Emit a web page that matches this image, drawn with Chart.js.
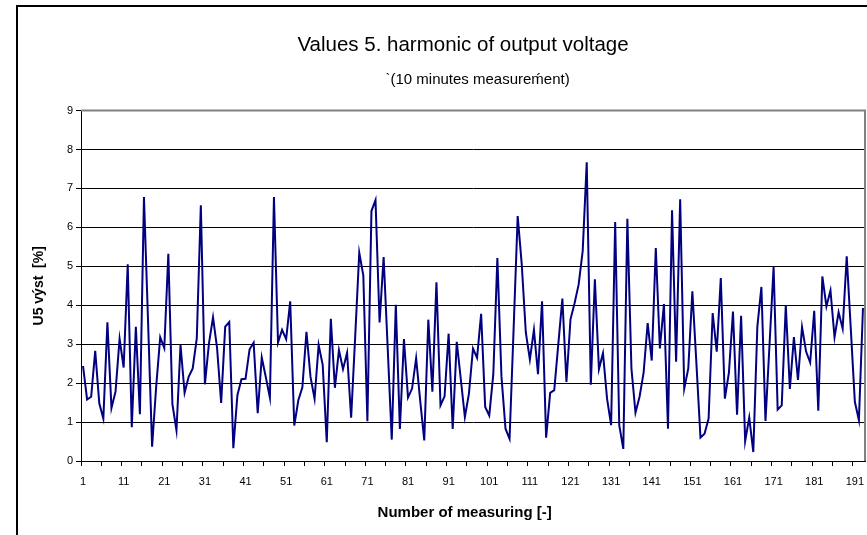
<!DOCTYPE html>
<html>
<head>
<meta charset="utf-8">
<script src="https://cdn.jsdelivr.net/npm/chart.js@4"></script>
<style>
	body {margin: 0; background: #fff; overflow: hidden;}
	#wrap {position: relative; width: 867px; height: 535px; overflow: hidden;}
	#frame {position: absolute; left: 16px; top: 5px; width: 900px; height: 600px; border: 2px solid #000; pointer-events: none;}
	canvas {position: absolute; left: 0; top: 0;}
</style>
</head>
<body>
<div id="wrap">
	<canvas id="harmonicChart" width="930" height="535"></canvas>
	<div id="frame"></div>
</div>
<script>
'use strict';

// number of measuring 1..193
const measurements = Array.from({length: 193}, (v, i) => String(i + 1));

// U5 vyst [%]
const u5Values = [
	2.44, 1.58, 1.65, 2.83, 1.48, 1.09, 3.56, 1.36, 1.78, 3.14,
	2.40, 5.05, 0.87, 3.45, 1.20, 6.78, 3.60, 0.37, 1.90, 3.18,
	2.90, 5.32, 1.46, 0.79, 2.98, 1.75, 2.16, 2.38, 3.15, 6.57,
	1.97, 3.02, 3.69, 2.90, 1.49, 3.45, 3.57, 0.33, 1.69, 2.10,
	2.11, 2.87, 3.04, 1.23, 2.66, 2.15, 1.63, 6.78, 3.04, 3.37,
	3.13, 4.10, 0.91, 1.56, 1.89, 3.32, 2.16, 1.60, 2.98, 2.47,
	0.48, 3.65, 1.88, 2.85, 2.36, 2.78, 1.11, 3.20, 5.35, 4.76,
	1.02, 6.42, 6.70, 3.56, 5.24, 2.90, 0.55, 4.01, 0.82, 3.13,
	1.63, 1.86, 2.64, 1.55, 0.53, 3.63, 1.78, 4.59, 1.43, 1.66,
	3.27, 0.82, 3.06, 2.10, 1.13, 1.73, 2.89, 2.65, 3.78, 1.39,
	1.17, 2.23, 5.21, 2.18, 0.83, 0.57, 3.40, 6.29, 5.05, 3.30,
	2.61, 3.37, 2.23, 4.10, 0.60, 1.75, 1.82, 3.00, 4.17, 2.03,
	3.64, 4.05, 4.53, 5.39, 7.67, 1.96, 4.67, 2.36, 2.77, 1.60,
	0.92, 6.14, 0.92, 0.31, 6.22, 2.38, 1.24, 1.65, 2.27, 3.54,
	2.58, 5.47, 2.89, 4.03, 0.83, 6.44, 2.55, 6.72, 1.86, 2.38,
	4.36, 2.50, 0.60, 0.70, 1.09, 3.80, 2.81, 4.70, 1.60, 2.27,
	3.84, 1.19, 3.73, 0.51, 1.12, 0.23, 3.45, 4.47, 1.03, 3.00,
	4.99, 1.32, 1.43, 4.00, 1.85, 3.18, 2.08, 3.44, 2.81, 2.53,
	3.86, 1.29, 4.74, 3.97, 4.38, 3.18, 3.82, 3.40, 5.26, 3.40,
	1.52, 1.05, 3.93
];

const yMin = 0;
const yMax = 9;
const yStep = 1;

const titleText = 'Values 5. harmonic of output voltage';
// leading spaces push the second line a bit to the right, as in the original
const subtitleText = '       `(10 minutes measurem\u0301ent)';
const xTitleText = 'Number of measuring [-]    ';
const yTitleText = 'U5 výst  [%]';

const fontFamily = '"Liberation Sans", Arial, sans-serif';

// grey frame of the plot area (top and right side)
const plotBorder = {
	id: 'plotBorder',
	beforeDatasetsDraw(chart) {
		const {ctx, chartArea: a} = chart;
		ctx.save();
		ctx.strokeStyle = '#808080';
		ctx.lineWidth = 2;
		ctx.beginPath();
		ctx.moveTo(a.left, a.top);
		ctx.lineTo(a.right, a.top);
		ctx.lineTo(a.right, a.bottom);
		ctx.stroke();
		ctx.restore();
	},
};

const ctx = document.getElementById('harmonicChart').getContext('2d');
const harmonicChart = new Chart(ctx, {
	type: 'line',
	data: {
		labels: measurements,
		datasets: [{
			data: u5Values,
			borderColor: '#000080',
			borderWidth: 2,
			pointRadius: 0,
			tension: 0,
			fill: false,
		}],
	},
	options: {
		responsive: false,
		animation: false,
		layout: {padding: {left: 20, right: 24, top: 0, bottom: 0}},
		plugins: {
			legend: {display: false},
			tooltip: {enabled: false},
			title: {
				display: true,
				text: titleText,
				color: '#000',
				font: {family: fontFamily, size: 20.5, weight: 'normal'},
				padding: {top: 33, bottom: 9},
			},
			subtitle: {
				display: true,
				text: subtitleText,
				color: '#000',
				font: {family: fontFamily, size: 15, weight: 'normal'},
				padding: {top: 4, bottom: 22},
			},
		},
		scales: {
			x: {
				offset: true,
				grid: {
					offset: true,
					drawOnChartArea: false,
					tickLength: 5,
					color: c => (c.index % 5 === 0 ? '#000' : 'rgba(0,0,0,0)'),
				},
				border: {display: true, color: '#000', width: 1},
				ticks: {
					autoSkip: false,
					maxRotation: 0,
					minRotation: 0,
					padding: 9,
					color: '#000',
					font: {family: fontFamily, size: 11},
					callback: function(value, index) {
						return index % 10 === 0 ? this.getLabelForValue(value) : '';
					},
				},
				title: {
					display: true,
					text: xTitleText,
					color: '#000',
					font: {family: fontFamily, size: 15, weight: 'bold'},
					padding: {top: 0, bottom: 13},
				},
				afterFit: scale => {
					scale.height = 74;
				},
			},
			y: {
				min: yMin,
				max: yMax,
				grid: {
					tickLength: 5,
					color: c => (c.tick && c.tick.value === yMax ? '#808080' : '#000'),
					tickColor: '#000',
				},
				border: {display: true, color: '#000', width: 1},
				ticks: {
					stepSize: yStep,
					padding: 3,
					color: '#000',
					font: {family: fontFamily, size: 11},
				},
				title: {
					display: true,
					text: yTitleText,
					color: '#000',
					font: {family: fontFamily, size: 14, weight: 'bold'},
					padding: {top: 11, bottom: 0},
				},
				afterFit: scale => {
					scale.width = 61;
				},
			},
			// empty axis on the right, keeps the titles centred like the original frame
			yRight: {
				position: 'right',
				display: true,
				grid: {display: false},
				border: {display: false},
				ticks: {display: false},
				afterFit: scale => {
					scale.width = 41;
				},
			},
		},
	},
	plugins: [plotBorder],
});
</script>
</body>
</html>
